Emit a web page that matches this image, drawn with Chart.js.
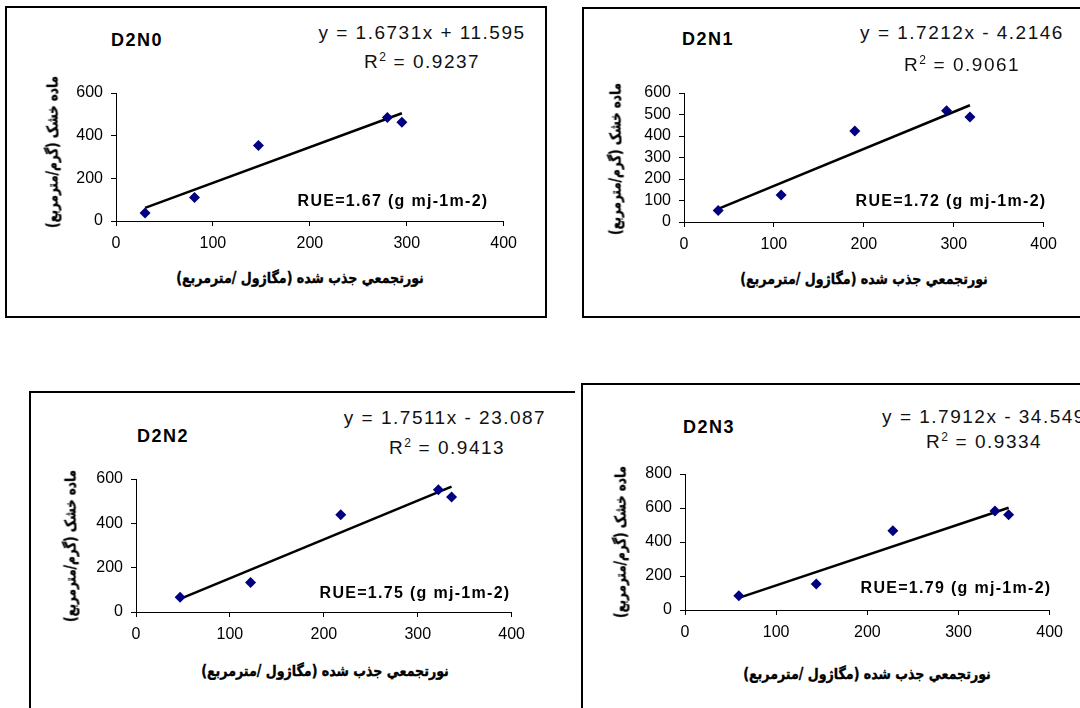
<!DOCTYPE html>
<html lang="fa">
<head>
<meta charset="utf-8">
<script src="https://cdn.jsdelivr.net/npm/chart.js@4.4.0/dist/chart.umd.min.js"></script>
<style>
html,body{margin:0;padding:0;background:#fff;}
body{width:1080px;height:708px;position:relative;overflow:hidden;font-family:"Liberation Sans",Arial,sans-serif;color:#000;}
.box{position:absolute;border:2px solid #000;box-sizing:border-box;}
.plot{position:absolute;}
.txt{position:absolute;white-space:nowrap;line-height:1;transform:translate(-50%,-50%);}
.title{font-weight:bold;font-size:18px;letter-spacing:1.5px;}
.eq{font-size:19px;letter-spacing:1.5px;color:#111;}
.rue{font-weight:bold;font-size:16px;letter-spacing:1.3px;}
.fa{font-family:"DejaVu Sans",sans-serif;font-weight:bold;font-size:15px;direction:rtl;-webkit-text-stroke:0.4px #000;}
.sup{font-size:12px;position:relative;top:-7px;letter-spacing:1px;}
</style>
</head>
<body>
<script>
// Treatments
const treatments = ['D2N0', 'D2N1', 'D2N2', 'D2N3'];

// Absorbed cumulative radiation (MJ/m2) and dry matter (g/m2) per treatment
const d2n0Par = [30, 81, 147, 280, 295];
const d2n0Dm  = [38, 110, 354, 485, 463];
const d2n1Par = [38, 108, 190, 292, 318];
const d2n1Dm  = [53, 126, 423, 518, 488];
const d2n2Par = [47, 122, 218, 322, 336];
const d2n2Dm  = [66, 133, 439, 551, 519];
const d2n3Par = [59, 144, 228, 340, 355];
const d2n3Dm  = [84, 153, 466, 583, 561];

// Linear fits
const slopes     = [1.6731, 1.7212, 1.7511, 1.7912];
const intercepts = [11.595, -4.2146, -23.087, -34.549];
const rSquared   = ['0.9237', '0.9061', '0.9413', '0.9334'];

// Axis ranges and tick steps
const xMax   = 400;
const xStep  = 100;
const yMaxes = [600, 600, 600, 800];
const ySteps = [200, 100, 200, 200];

// Axis titles
const xTitle = 'نورتجمعي جذب شده (مگاژول /مترمربع)';
const yTitle = 'ماده خشک (گرم/مترمربع)';

const parSeries = [d2n0Par, d2n1Par, d2n2Par, d2n3Par];
const dmSeries  = [d2n0Dm, d2n1Dm, d2n2Dm, d2n3Dm];

// Page placement of each panel (frame, plot area, text anchors)
const frames = [
  {box:{l:5,t:6,w:542,h:312}, area:{l:116,r:505,t:93,b:221}, title:[137,40], eq:[422,32], r2:[422,61], rue:[393,201], xt:[300,278], yt:[53,152]},
  {box:{l:582,t:7,w:520,h:311}, area:{l:684,r:1045,t:93,b:222}, title:[708,39], eq:[962,32], r2:[962,64], rue:[951,201], xt:[864,279], yt:[616,159]},
  {box:{l:29,t:391,w:546,h:400,noRight:true}, area:{l:136,r:513,t:479,b:612}, title:[163,436], eq:[445,417], r2:[447,447], rue:[415,593], xt:[325,671], yt:[71,546]},
  {box:{l:581,t:383,w:520,h:400}, area:{l:685,r:1051,t:474,b:610}, title:[709,427], eq:[984,416], r2:[984,441], rue:[956,588], xt:[867,674], yt:[621,542]}
];

const PAD_L = 80, PAD_T = 20, PAD_R = 20, AX_H = 40;

function addText(cls, html, x, y) {
  const el = document.createElement('div');
  el.className = 'txt ' + cls;
  el.innerHTML = html;
  el.style.left = x + 'px';
  el.style.top = y + 'px';
  document.body.appendChild(el);
  return el;
}

function fitText(el, len, vertical) {
  const w = el.offsetWidth;
  const k = len / w;
  el.style.transform = 'translate(-50%,-50%)' + (vertical ? ' rotate(-90deg)' : '') + ' scaleX(' + k + ')';
}

function eqText(s, b) {
  return 'y = ' + s + 'x ' + (b < 0 ? '- ' : '+ ') + Math.abs(b);
}

function axisCommon() {
  return {
    type: 'linear',
    ticks: { color: '#000', font: { family: 'Liberation Sans', size: 16 }, padding: 8, autoSkip: false },
    grid: { display: true, drawOnChartArea: false, drawTicks: true, tickLength: 5, tickColor: '#000', tickWidth: 1 },
    border: { display: true, color: '#000', width: 1 }
  };
}

treatments.forEach((name, i) => {
  const f = frames[i];

  // frame
  const box = document.createElement('div');
  box.className = 'box';
  box.style.left = f.box.l + 'px';
  box.style.top = f.box.t + 'px';
  box.style.width = f.box.w + 'px';
  box.style.height = f.box.h + 'px';
  if (f.box.noRight) box.style.borderRight = 'none';
  document.body.appendChild(box);

  // chart canvas
  const cw = (f.area.r - f.area.l) + PAD_L + PAD_R;
  const ch = (f.area.b - f.area.t) + PAD_T + AX_H;
  const cv = document.createElement('canvas');
  cv.className = 'plot';
  cv.width = cw; cv.height = ch;
  cv.style.width = cw + 'px'; cv.style.height = ch + 'px';
  cv.style.left = (f.area.l - PAD_L) + 'px';
  cv.style.top = (f.area.t - PAD_T) + 'px';
  document.body.appendChild(cv);

  const par = parSeries[i], dm = dmSeries[i];
  const x0 = Math.min(...par), x1 = Math.max(...par);

  const xScale = axisCommon();
  xScale.min = 0; xScale.max = xMax; xScale.ticks.stepSize = xStep;
  xScale.afterFit = s => { s.height = AX_H; };
  const yScale = axisCommon();
  yScale.min = 0; yScale.max = yMaxes[i]; yScale.ticks.stepSize = ySteps[i];
  yScale.afterFit = s => { s.width = PAD_L; };

  new Chart(cv, {
    type: 'scatter',
    data: {
      datasets: [
        {
          label: name,
          data: par.map((x, j) => ({ x: x, y: dm[j] })),
          pointStyle: 'rectRot',
          pointRadius: 5.5,
          pointHoverRadius: 5.5,
          backgroundColor: '#000080',
          borderColor: '#000080',
          borderWidth: 0,
          showLine: false
        },
        {
          label: 'fit',
          type: 'line',
          data: [
            { x: x0, y: slopes[i] * x0 + intercepts[i] },
            { x: x1, y: slopes[i] * x1 + intercepts[i] }
          ],
          borderColor: '#000',
          borderWidth: 2.5,
          pointRadius: 0,
          showLine: true,
          fill: false
        }
      ]
    },
    options: {
      responsive: false,
      animation: false,
      devicePixelRatio: 1,
      layout: { padding: { left: 0, top: PAD_T, right: PAD_R, bottom: 0 } },
      scales: { x: xScale, y: yScale },
      plugins: { legend: { display: false }, tooltip: { enabled: false }, title: { display: false } }
    }
  });

  // texts
  addText('title', name, f.title[0], f.title[1]);
  addText('eq', eqText(slopes[i], intercepts[i]), f.eq[0], f.eq[1]);
  addText('eq', 'R<span class="sup">2</span> = ' + rSquared[i], f.r2[0], f.r2[1]);
  addText('rue', 'RUE=' + slopes[i].toFixed(2) + ' (g mj-1m-2)', f.rue[0], f.rue[1]);
  const xt = addText('fa', xTitle, f.xt[0], f.xt[1]);
  xt.dir = 'rtl';
  fitText(xt, 248, false);
  const yt = addText('fa', yTitle, f.yt[0], f.yt[1]);
  yt.dir = 'rtl';
  fitText(yt, 152, true);
});
</script>
</body>
</html>
